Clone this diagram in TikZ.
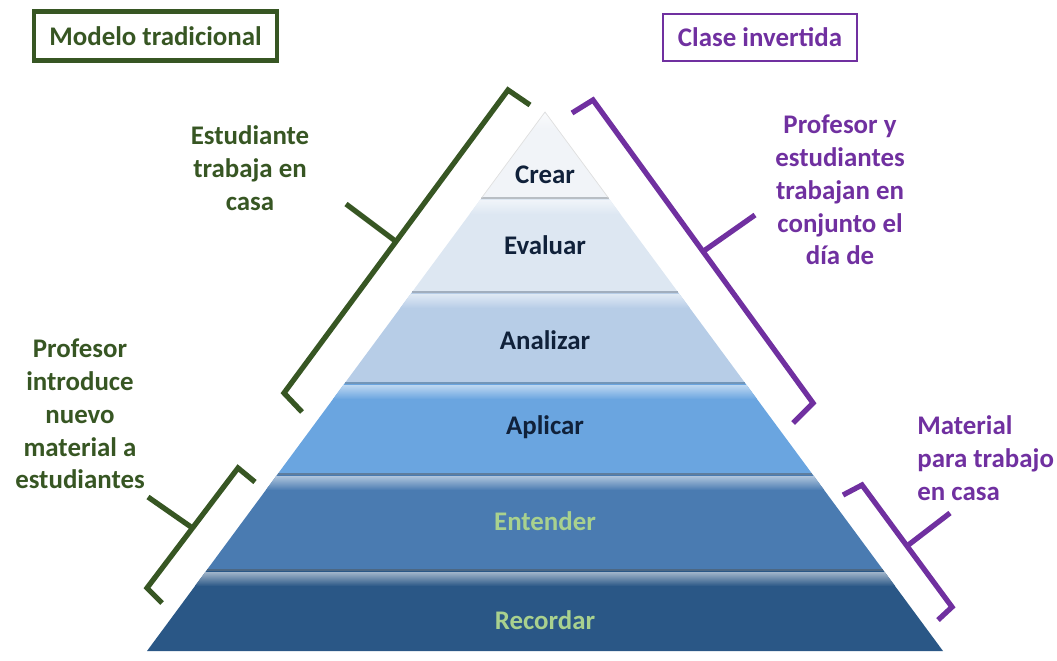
\documentclass[tikz,border=0pt]{standalone}
\usepackage{fontspec}
\setmainfont{Carlito}
\usepackage{xcolor}
\usepackage{tikz}
\usetikzlibrary{positioning, calc}

\definecolor{trad-green}{HTML}{375623}
\definecolor{inv-purple}{HTML}{7030A0}
\definecolor{dark-text}{HTML}{10213A}
\definecolor{light-green}{HTML}{A9D18E}
\definecolor{lvl-crear}{HTML}{F1F4F8}
\definecolor{lvl-evaluar}{HTML}{DDE7F2}
\definecolor{lvl-analizar}{HTML}{B7CDE7}
\definecolor{lvl-aplicar}{HTML}{6AA5E0}
\definecolor{lvl-entender}{HTML}{4A7BB1}
\definecolor{lvl-recordar}{HTML}{2A5786}

\begin{document}
\begin{tikzpicture}[x=0.02cm, y=-0.02cm]
  \tikzstyle{side-text}=[font=\bfseries\fontsize{15.3}{18.7}\selectfont, align=center, inner sep=0]
  \tikzstyle{title-box}=[side-text, draw, inner sep=0]
  \tikzstyle{brace-trad}=[trad-green, line width=3pt]
  \tikzstyle{brace-inv}=[inv-purple, line width=3pt]

  \useasboundingbox (0,0) rectangle (1057,660);

  % pyramid
  \coordinate (apex) at (545,112);
  \coordinate (base-l) at (147,651);
  \coordinate (base-r) at (943,651);

  \foreach \ta/\tb/\col/\tcol/\ly/\word in {
      0/0.1596/lvl-crear/dark-text/175/Crear,
      0.1596/0.3340/lvl-evaluar/dark-text/245/Evaluar,
      0.3340/0.5028/lvl-analizar/dark-text/340/Analizar,
      0.5028/0.6716/lvl-aplicar/dark-text/427/Aplicar,
      0.6716/0.8497/lvl-entender/light-green/521/Entender,
      0.8497/1/lvl-recordar/light-green/620/Recordar} {
    \pgfmathsetmacro{\sa}{\ta+0.004}
    \pgfmathsetmacro{\sb}{\ta+0.03}
    \fill [\col] ($(apex)!\ta!(base-l)$) -- ($(apex)!\tb!(base-l)$)
      -- ($(apex)!\tb!(base-r)$) -- ($(apex)!\ta!(base-r)$) -- cycle;
    \shade [top color=\col!45!white, bottom color=\col] ($(apex)!\sa!(base-l)$) -- ($(apex)!\sb!(base-l)$)
      -- ($(apex)!\sb!(base-r)$) -- ($(apex)!\sa!(base-r)$) -- cycle;
    \draw [\col!60!gray, line width=1.4pt] ($(apex)!\ta!(base-l)$) -- ($(apex)!\ta!(base-r)$);
    \node [side-text, \tcol] (L-\word) at (545,\ly) {\word};
  }
  \draw [gray!25] ($(apex)!0.1596!(base-l)$) -- (apex) -- ($(apex)!0.1596!(base-r)$);

  % titles
  \node [title-box, trad-green, line width=2.3pt, minimum width=4.86cm, minimum height=0.98cm] (T-trad) at (155.5,36) {Modelo tradicional};
  \node [title-box, inv-purple, line width=1.4pt, minimum width=3.88cm, minimum height=0.94cm] (T-inv) at (760,37.5) {Clase invertida};

  % side texts
  \node [side-text, trad-green] (N-casa) at (250,168) {Estudiante\\trabaja en\\casa};
  \node [side-text, trad-green] (N-intro) at (80,414) {Profesor\\introduce\\nuevo\\material a\\estudiantes};
  \node [side-text, inv-purple] (N-conj) at (840,190) {Profesor y\\estudiantes\\trabajan en\\conjunto el\\día de};
  \node [side-text, inv-purple, align=left, anchor=west] (N-mat) at (917,458) {Material\\para trabajo\\en casa};

  % green braces
  \coordinate (G1-top) at (508,90);
  \coordinate (G1-bot) at (284,393);
  \draw [brace-trad] (530,105) -- (G1-top) -- (G1-bot) -- (302,412);
  \draw [brace-trad] ($(G1-top)!0.5!(G1-bot)$) -- (346,204);

  \coordinate (G2-top) at (238,468);
  \coordinate (G2-bot) at (147,588);
  \draw [brace-trad] (255,482) -- (G2-top) -- (G2-bot) -- (162,603);
  \draw [brace-trad] ($(G2-top)!0.5!(G2-bot)$) -- (148,497);

  % purple braces
  \coordinate (P1-top) at (593,100);
  \coordinate (P1-bot) at (813,403);
  \draw [brace-inv] (572,113) -- (P1-top) -- (P1-bot) -- (793,423);
  \draw [brace-inv] ($(P1-top)!0.5!(P1-bot)$) -- (755,215);

  \coordinate (P2-top) at (862,485);
  \coordinate (P2-bot) at (952,607);
  \draw [brace-inv] (843,495) -- (P2-top) -- (P2-bot) -- (938,620);
  \draw [brace-inv] ($(P2-top)!0.5!(P2-bot)$) -- (950,513);
\end{tikzpicture}
\end{document}
